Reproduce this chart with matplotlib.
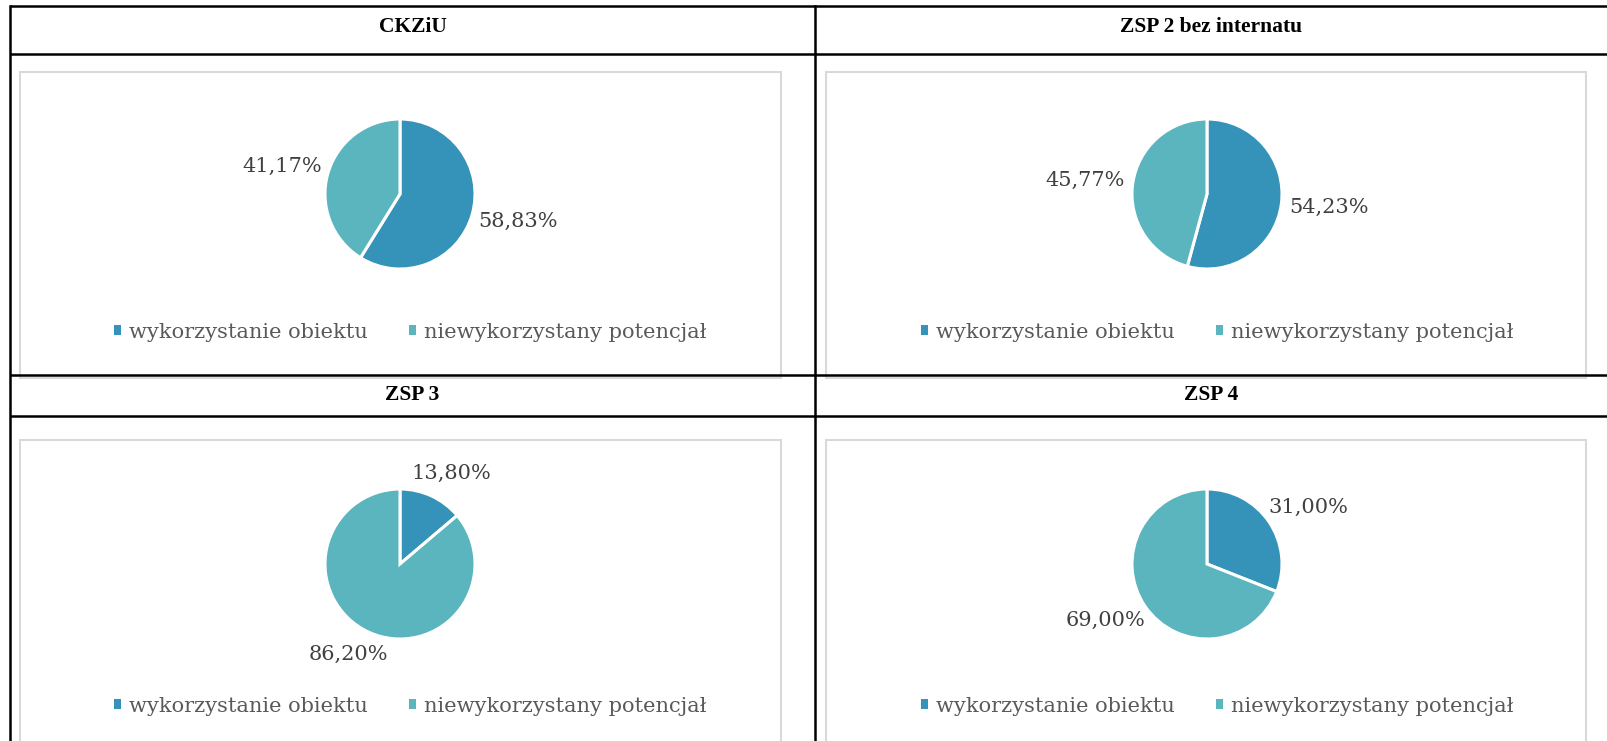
import numpy as np
import matplotlib.pyplot as plt
from matplotlib.patches import Rectangle, Patch

W, H = 1607, 741

# data
titles = ['CKZiU', 'ZSP 2 bez internatu', 'ZSP 3', 'ZSP 4']
series_names = ['wykorzystanie obiektu', 'niewykorzystany potencjał']
used = [58.83, 54.23, 13.80, 31.00]
unused = [41.17, 45.77, 86.20, 69.00]

colors = ['#3592b8', '#5bb5bf']
txt_gray = '#404040'
serif = 'DejaVu Serif'

fig = plt.figure(figsize=(W / 100, H / 100), dpi=100)

# table frame drawn in pixel coordinates
tab = fig.add_axes([0, 0, 1, 1])
tab.set_xlim(0, W)
tab.set_ylim(H, 0)
tab.axis('off')

left, mid = 10, 815
row_lines = [6, 54, 375, 416]
header_y = [27, 395]
box_top = [72, 440]
box_bottom = [378, 745]
col_boxes = [(20, 781), (826, 1586)]

for r in range(2):
    for c in range(2):
        x0, x1 = col_boxes[c]
        tab.add_patch(Rectangle((x0, box_top[r]), x1 - x0, box_bottom[r] - box_top[r],
                                facecolor='white', edgecolor='#d9d9d9', lw=1.5))
for y in row_lines:
    tab.plot([left, W], [y, y], color='black', lw=1.8, solid_capstyle='butt')
tab.plot([left, left], [row_lines[0], H], color='black', lw=1.8)
tab.plot([mid, mid], [row_lines[0], H], color='black', lw=1.8)

col_cx = [(left + mid) / 2, (mid + W) / 2]
for i, t in enumerate(titles):
    r, c = divmod(i, 2)
    tab.text(col_cx[c], header_y[r], t, ha='center', va='center', fontsize=15.5,
             fontweight='bold', family='Liberation Serif', color='black')

pie_cx = [400, 1207]
pie_cy = [194, 564]
legend_y = [332, 706]
R = 75  # pie radius in px
S = 300

for i in range(4):
    r, c = divmod(i, 2)
    cx, cy = pie_cx[c], pie_cy[r]
    ax = fig.add_axes([(cx - S / 2) / W, 1 - (cy + S / 2) / H, S / W, S / H])
    vals = [used[i], unused[i]]
    wedges, _ = ax.pie(vals, colors=colors, startangle=90, counterclock=False, radius=1,
                       wedgeprops=dict(edgecolor='white', linewidth=2.2))
    # pie() resets the limits, so set them afterwards
    ax.set_xlim(-S / 2 / R, S / 2 / R)
    ax.set_ylim(-S / 2 / R, S / 2 / R)
    ax.axis('off')
    for w, v in zip(wedges, vals):
        a = np.deg2rad((w.theta1 + w.theta2) / 2)
        ux, uy = np.cos(a), np.sin(a)
        lab = ('%.2f%%' % v).replace('.', ',')
        ax.annotate(lab, (ux * 1.04, uy * 1.04), xytext=(45 * ux, 22 * uy),
                    textcoords='offset pixels', ha='center', va='center',
                    fontsize=15, family=serif, color=txt_gray)

    handles = [Patch(facecolor=col, edgecolor='none') for col in colors]
    fig.legend(handles, series_names, loc='center',
               bbox_to_anchor=((cx + 10) / W, 1 - legend_y[r] / H), ncol=2, frameon=False,
               handlelength=0.35, handleheight=0.35, handletextpad=0.35,
               columnspacing=2.0, prop=dict(family=serif, size=15),
               labelcolor='#595959')

fig.savefig('out.png', dpi=100)
